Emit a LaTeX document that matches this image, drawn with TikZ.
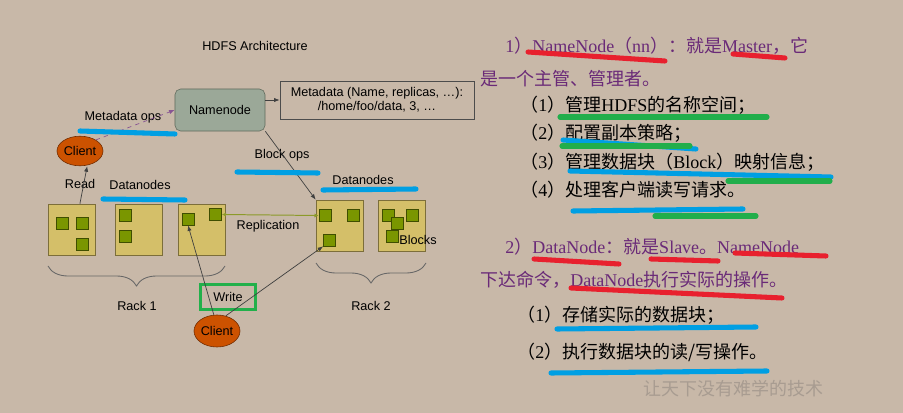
\documentclass[tikz,border=0pt]{standalone}
\usepackage{fontspec}
\setmainfont{Liberation Serif}
\setsansfont{Liberation Sans}
\newfontfamily\cjk{Noto Sans CJK SC}
\usepackage{tikz}
\usetikzlibrary{shapes.geometric,arrows.meta,positioning,calc,decorations.pathreplacing}
\definecolor{BG}{HTML}{C8B8A8}
\definecolor{NNF}{HTML}{9BA898}
\definecolor{NND}{HTML}{5F6A5C}
\definecolor{CLF}{HTML}{CC5200}
\definecolor{CLD}{HTML}{6E2A00}
\definecolor{DNF}{HTML}{D4BF69}
\definecolor{DND}{HTML}{7C6E3A}
\definecolor{BKF}{HTML}{7A9600}
\definecolor{BKD}{HTML}{3F4E00}
\definecolor{RP}{HTML}{8C9A2A}
\definecolor{PU}{HTML}{6A2A78}
\definecolor{HR}{HTML}{E8202E}
\definecolor{HB}{HTML}{009FE3}
\definecolor{HG}{HTML}{21AE4B}
\definecolor{WG}{HTML}{22B04A}
\definecolor{WM}{HTML}{A89C91}
\newcommand\zh[1]{{\cjk #1}}
\tikzset{
  lbl/.style={font=\sffamily\fontsize{9}{10}\selectfont, inner sep=0pt},
  namebox/.style={lbl, draw=NND, fill=NNF, rounded corners=4pt,
    minimum width=2.25cm, minimum height=1.05cm},
  metabox/.style={lbl, draw=black!70, fill=BG, minimum width=4.85cm,
    minimum height=0.95cm, align=center},
  client/.style={lbl, ellipse, draw=CLD, fill=CLF, minimum width=1.15cm,
    minimum height=0.74cm},
  dnbox/.style={draw=DND, fill=DNF, minimum width=1.175cm,
    minimum height=1.275cm, inner sep=0pt},
  blk/.style={draw=BKD, fill=BKF, minimum size=0.3cm, inner sep=0pt},
  conn/.style={draw=black!75, line width=0.5pt, -{Latex[length=4pt,width=3pt]}},
  brc/.style={draw=black!60, line width=0.6pt,
    decorate, decoration={brace, mirror, amplitude=0.5cm}},
  tx/.style={anchor=west, inner sep=0pt, font=\rmfamily\fontsize{12.8}{14}\selectfont},
  txp/.style={text=PU},
  hl/.style={line width=3.6pt, line cap=round},
}
\begin{document}
\begin{tikzpicture}[x=0.025cm, y=-0.025cm]
  \useasboundingbox (0,0) rectangle (903,413);
  \fill[BG] (0,0) rectangle (903,413);

  % left: HDFS diagram
  \node[lbl] (title) at (255,46) {HDFS Architecture};
  \node[namebox] (nn) at (220,110) {Namenode};
  \node[metabox] (md) at (377,100) {Metadata (Name, replicas, \dots):\\/home/foo/data, 3, \dots};
  \node[client] (cl1) at (80,151) {Client};
  \node[client, minimum height=0.8cm] (cl2) at (217,331) {Client};

  \node[dnbox] (dn1) at (71.5,229.5) {};
  \node[dnbox] (dn2) at (138.5,229.5) {};
  \node[dnbox] (dn3) at (201.5,229.5) {};
  \node[dnbox] (dn4) at (339.5,225.5) {};
  \node[dnbox] (dn5) at (402,225.5) {};

  \foreach \n/\x/\y in {a1/62/223.5, a2/82/223.5, a3/82/244,
      b1/125/215, b2/125/236, c1/188/219, c2/215.5/214.5,
      d1/325/215.5, d2/353/215.5, d3/329.5/240,
      e1/388/215.5, e2/412/215.5, e3/397/223, e4/392/236}{
    \node[blk] (\n) at (\x,\y) {};
  }

  \node[lbl] (mdops) at (123,117) {Metadata ops};
  \node[lbl] (rd) at (80,184) {Read};
  \node[lbl] (dl1) at (140,185) {Datanodes};
  \node[lbl] (bops) at (282,155) {Block ops};
  \node[lbl] (dl2) at (363,180) {Datanodes};
  \node[lbl] (rep) at (268,226) {Replication};
  \node[lbl] (bls) at (418,240) {Blocks};
  \node[lbl] (rk1) at (137,306) {Rack 1};
  \node[lbl] (rk2) at (371,306) {Rack 2};
  \node[lbl, draw=WG, line width=2.6pt, minimum width=1.38cm,
    minimum height=0.62cm] (wr) at (228,297) {Write};

  \draw[conn] (nn.east |- md.west) -- (md.west);
  \draw[conn, draw=PU!80, dashed] (cl1.35) -- (nn.west);
  \draw[conn] ([xshift=0.21cm]dn1.north) -- ([xshift=0.18cm]cl1.south);
  \draw[conn] (nn.south east) -- (dn4.north west);
  \draw[draw=RP, line width=0.7pt, {Latex[length=3pt,width=3pt]}-{Latex[length=3pt,width=3pt]}]
    (c2.east) -- (d1.west);
  \draw[conn] ([xshift=-0.08cm]cl2.north) -- (c1.south);
  \draw[conn] (cl2.60) -- (d3.south west);

  \draw[brc] (48,266) -- (225,266);
  \draw[brc] (316,263) -- (426,263);

  % right: notes
  \node[tx, txp] (t1) at (505,46) {1\zh{）}NameNode\zh{（}nn\zh{）：就是}Master\zh{，它}};
  \node[tx, txp] (t2) at (480,79) {\zh{是一个主管、管理者。}};
  \node[tx] (t3) at (520,105) {\zh{（}1\zh{）管理}HDFS\zh{的名称空间；}};
  \node[tx] (t4) at (520,133) {\zh{（}2\zh{）配置副本策略；}};
  \node[tx] (t5) at (520,162) {\zh{（}3\zh{）管理数据块（}Block\zh{）映射信息；}};
  \node[tx] (t6) at (520,190) {\zh{（}4\zh{）处理客户端读写请求。}};
  \node[tx, txp] (t7) at (505,247) {2\zh{）}DataNode\zh{：就是}Slave\zh{。}NameNode};
  \node[tx, txp] (t8) at (480,280) {\zh{下达命令，}DataNode\zh{执行实际的操作。}};
  \node[tx] (t9) at (517,315) {\zh{（}1\zh{）存储实际的数据块；}};
  \node[tx] (t10) at (517,352) {\zh{（}2\zh{）执行数据块的读/写操作。}};
  \node[tx, text=WM] (wm) at (643,389) {\zh{让天下没有难学的技术}};

  % pen marks
  \draw[hl, HB] (80,131) -- (175,134);
  \draw[hl, HB] (103,199) -- (185,200);
  \draw[hl, HB] (237,172) -- (318,173);
  \draw[hl, HB] (323,190) -- (416,189);
  \draw[hl, HR] (528,52) -- (665,61);
  \draw[hl, HR] (733,54) -- (785,58);
  \draw[hl, HG] (560,117) -- (767,117);
  \draw[hl, HB] (563,140) -- (696,149);
  \draw[hl, HG] (562,146) -- (690,146);
  \draw[hl, HB] (570,171) -- (831,177);
  \draw[hl, HG] (728,181) -- (830,181);
  \draw[hl, HB] (573,211) -- (743,209);
  \draw[hl, HG] (655,216) -- (756,216);
  \draw[hl, HR] (534,259) -- (619,264);
  \draw[hl, HR] (651,259) -- (718,261);
  \draw[hl, HR] (735,253) -- (826,256);
  \draw[hl, HR] (571,288) -- (782,298);
  \draw[hl, HB] (557,329) -- (756,327);
  \draw[hl, HB] (551,373) -- (767,371);
\end{tikzpicture}
\end{document}
